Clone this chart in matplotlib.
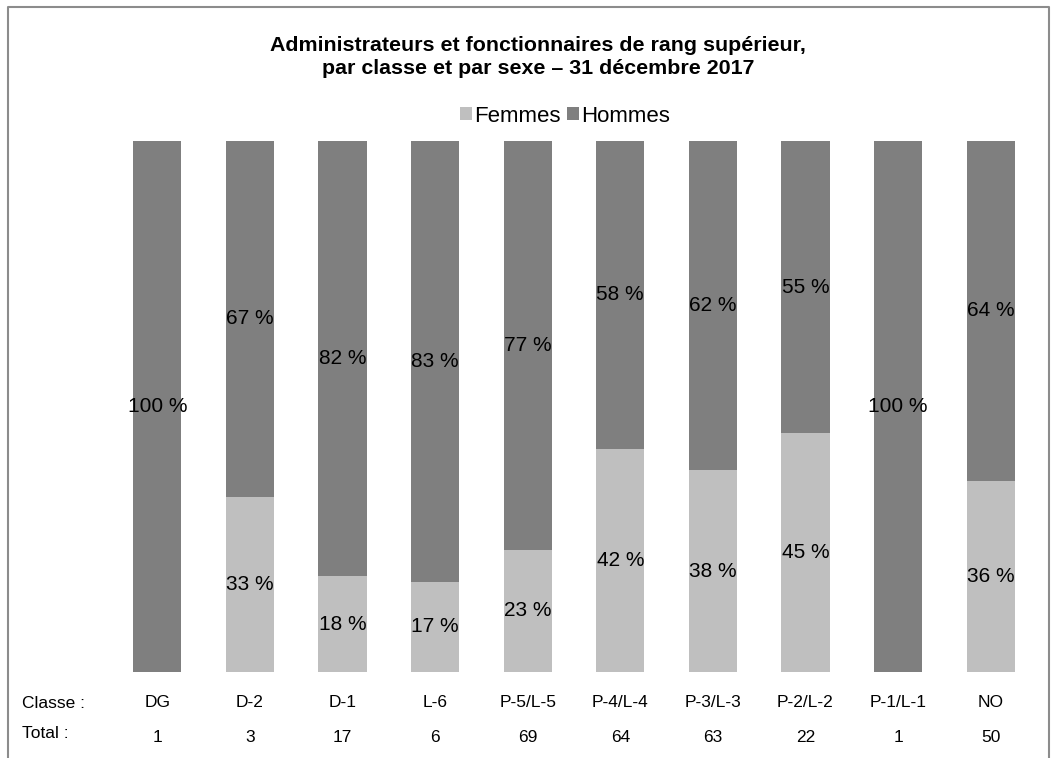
import matplotlib.pyplot as plt
from matplotlib.lines import Line2D
import numpy as np

plt.rcParams['font.family'] = ['Liberation Sans', 'DejaVu Sans']

classes = ["DG", "D-2", "D-1", "L-6", "P-5/L-5", "P-4/L-4", "P-3/L-3", "P-2/L-2", "P-1/L-1", "NO"]
totals = [1, 3, 17, 6, 69, 64, 63, 22, 1, 50]
femmes = [0, 33, 18, 17, 23, 42, 38, 45, 0, 36]
hommes = [100, 67, 82, 83, 77, 58, 62, 55, 100, 64]

col_f = "#bfbfbf"
col_h = "#7f7f7f"

fig = plt.figure(figsize=(10.57, 7.58), dpi=100)
ax = fig.add_axes([111 / 1057, 1 - 672 / 758, (1037 - 111) / 1057, (672 - 141) / 758])

x = np.arange(len(classes))
bf = ax.bar(x, femmes, width=0.52, color=col_f, label="Femmes")
bh = ax.bar(x, hommes, width=0.52, bottom=femmes, color=col_h, label="Hommes")

for i in range(len(classes)):
    if femmes[i] > 0:
        ax.text(x[i], femmes[i] / 2, f"{femmes[i]} %", ha="center", va="center", fontsize=15)
    if hommes[i] > 0:
        ax.text(x[i], femmes[i] + hommes[i] / 2, f"{hommes[i]} %", ha="center", va="center", fontsize=15)

ax.set_xlim(-0.5, len(classes) - 0.5)
ax.set_ylim(0, 100)
ax.axis("off")

# rows under the bars
for i in range(len(classes)):
    ax.text(x[i], -5.8, classes[i], ha="center", va="center", fontsize=12.5)
    ax.text(x[i], -12.4, str(totals[i]), ha="center", va="center", fontsize=12.5)
fig.text(22 / 1057, 1 - 703 / 758, "Classe :", ha="left", va="center", fontsize=12.5)
fig.text(22 / 1057, 1 - 733 / 758, "Total :", ha="left", va="center", fontsize=12.5)

fig.text(538 / 1057, 1 - 57 / 758,
         "Administrateurs et fonctionnaires de rang supérieur,\npar classe et par sexe \u2013 31 décembre 2017",
         ha="center", va="center", fontsize=15.4, fontweight="bold", linespacing=1.25)

fig.legend(handles=[bf, bh], loc="center", bbox_to_anchor=(565 / 1057, 1 - 116 / 758), ncol=2,
           frameon=False, fontsize=16, handlelength=0.55, handleheight=0.55, handletextpad=0.1,
           columnspacing=0.3, borderpad=0.1)

# frame: left, top and right edges only
x0, x1, ytop = 8 / 1057, 1049 / 1057, 1 - 7 / 758
fig.lines.append(Line2D([x0, x0, x1, x1], [0, ytop, ytop, 0], transform=fig.transFigure,
                        color="#8c8c8c", linewidth=1.5))

fig.savefig("out.png", dpi=100)
